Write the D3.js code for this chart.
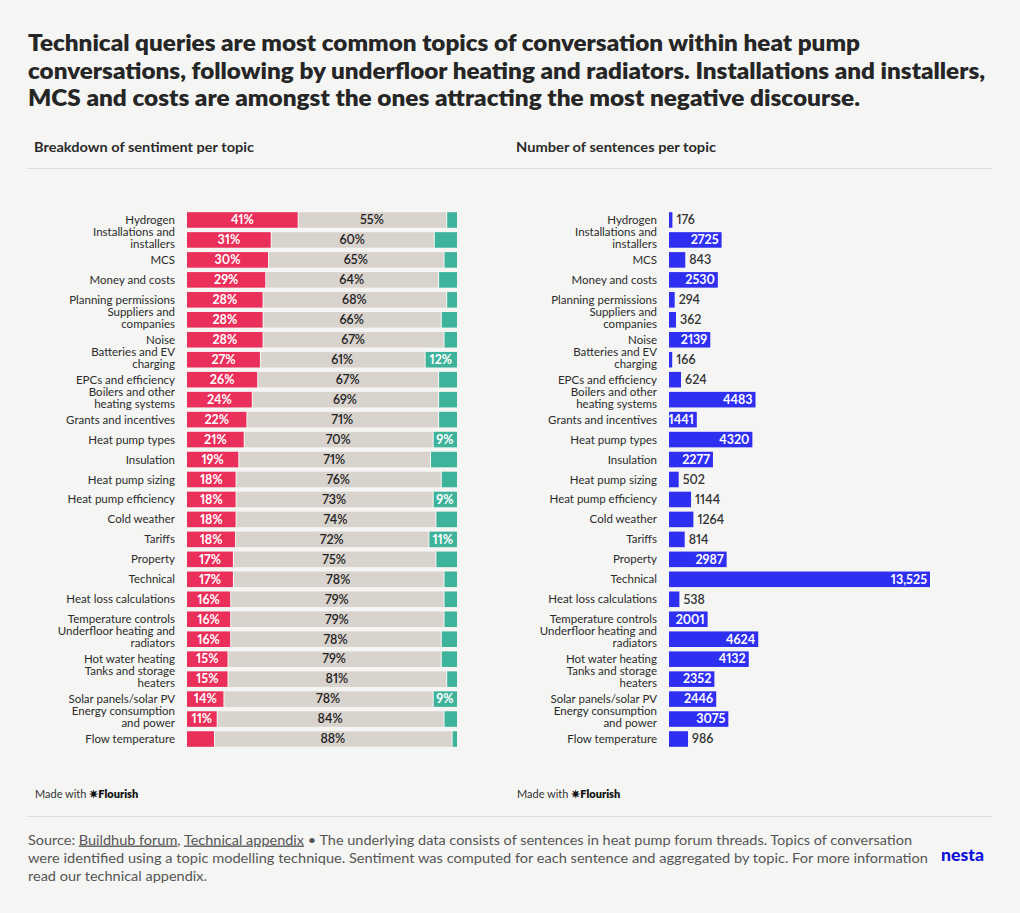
<!DOCTYPE html>
<html>
<head>
<meta charset="utf-8">
<script src="https://cdn.jsdelivr.net/npm/d3@7"></script>
<style>
  html, body { margin: 0; padding: 0; background: #f5f6f4; }
  svg { display: block; font-family: Lato, "Open Sans", sans-serif; font-variant-numeric: proportional-nums; }
</style>
</head>
<body>
<svg id="chart" width="1020" height="913"></svg>
<script>
// ---------- DATA ----------
const topics = [
  "Hydrogen", "Installations and installers", "MCS", "Money and costs",
  "Planning permissions", "Suppliers and companies", "Noise", "Batteries and EV charging",
  "EPCs and efficiency", "Boilers and other heating systems", "Grants and incentives",
  "Heat pump types", "Insulation", "Heat pump sizing", "Heat pump efficiency",
  "Cold weather", "Tariffs", "Property", "Technical", "Heat loss calculations",
  "Temperature controls", "Underfloor heating and radiators", "Hot water heating",
  "Tanks and storage heaters", "Solar panels/solar PV", "Energy consumption and power",
  "Flow temperature"
];
// label line breaks as shown in the chart
const topicLines = [
  ["Hydrogen"], ["Installations and", "installers"], ["MCS"], ["Money and costs"],
  ["Planning permissions"], ["Suppliers and", "companies"], ["Noise"], ["Batteries and EV", "charging"],
  ["EPCs and efficiency"], ["Boilers and other", "heating systems"], ["Grants and incentives"],
  ["Heat pump types"], ["Insulation"], ["Heat pump sizing"], ["Heat pump efficiency"],
  ["Cold weather"], ["Tariffs"], ["Property"], ["Technical"], ["Heat loss calculations"],
  ["Temperature controls"], ["Underfloor heating and", "radiators"], ["Hot water heating"],
  ["Tanks and storage", "heaters"], ["Solar panels/solar PV"], ["Energy consumption", "and power"],
  ["Flow temperature"]
];
// sentiment shares (%)
const negative = [41, 31, 30, 29, 28, 28, 28, 27, 26, 24, 22, 21, 19, 18, 18, 18, 17.8, 17, 17, 16, 16, 16, 15, 15, 13.5, 11, 10];
const neutral  = [55, 60.4, 65, 64, 68, 66, 67, 61, 67, 69, 71, 70, 71, 76, 73, 74, 71.6, 75, 78, 79, 79, 78, 79, 81, 77.5, 84, 88];
const positive = [4, 8.6, 5, 7, 4, 6, 5, 12, 7, 7, 7, 9, 10, 6, 9, 8, 10.6, 8, 5, 5, 5, 6, 6, 4, 9, 5, 2];
// number of sentences per topic
const sentences = [176, 2725, 843, 2530, 294, 362, 2139, 166, 624, 4483, 1441, 4320, 2277, 502, 1144, 1264, 814, 2987, 13525, 538, 2001, 4624, 4132, 2352, 2446, 3075, 986];

const titleLines = [
  "Technical queries are most common topics of conversation within heat pump",
  "conversations, following by underfloor heating and radiators. Installations and installers,",
  "MCS and costs are amongst the ones attracting the most negative discourse."
];

// ---------- STYLE ----------
const C = { neg: "#e92f5a", neu: "#d9d3cd", pos: "#3eb39b", blue: "#2f2ff2", text: "#2b2b2b", bg: "#f5f6f4" };

const svg = d3.select("#chart");
svg.append("rect").attr("width", 1020).attr("height", 913).attr("fill", C.bg);

// Title
const titleEnds = [860, 985, 860];
svg.append("g").selectAll("text").data(titleLines).join("text")
  .attr("x", 28).attr("y", (d, i) => 51 + i * 27.6)
  .attr("font-size", 22).attr("font-weight", 800).attr("fill", "#262626")
  .attr("textLength", (d, i) => titleEnds[i] - 28).attr("lengthAdjust", "spacingAndGlyphs")
  .text(d => d);

// Subtitles
svg.append("text").attr("x", 34).attr("y", 151.5).attr("font-size", 13).attr("font-weight", 700).attr("fill", C.text)
  .attr("textLength", 220).attr("lengthAdjust", "spacingAndGlyphs")
  .text("Breakdown of sentiment per topic");
svg.append("text").attr("x", 516).attr("y", 151.5).attr("font-size", 13).attr("font-weight", 700).attr("fill", C.text)
  .attr("textLength", 200).attr("lengthAdjust", "spacingAndGlyphs")
  .text("Number of sentences per topic");

svg.append("line").attr("x1", 27).attr("x2", 992).attr("y1", 168.5).attr("y2", 168.5).attr("stroke", "#dcdcdc");
svg.append("line").attr("x1", 27).attr("x2", 992).attr("y1", 816.5).attr("y2", 816.5).attr("stroke", "#dcdcdc");

const y = d3.scaleBand().domain(topics).range([210, 749]).paddingInner(0.22).paddingOuter(0.11);

function drawLabels(g, xRight) {
  const lg = g.append("g").selectAll("text").data(topics).join("text")
    .attr("text-anchor", "end").attr("font-size", 11.5).attr("fill", C.text);
  lg.each(function(d, i) {
    const lines = topicLines[i];
    const cy = y(d) + y.bandwidth() / 2;
    const t = d3.select(this);
    if (lines.length === 1) {
      t.append("tspan").attr("x", xRight).attr("y", cy + 4).text(lines[0]);
    } else {
      t.append("tspan").attr("x", xRight).attr("y", cy - 4).text(lines[0]);
      t.append("tspan").attr("x", xRight).attr("y", cy + 8).text(lines[1]);
    }
  });
}

// ---------- LEFT: stacked sentiment ----------
const left = svg.append("g");
drawLabels(left, 175);
const rows = topics.map((t, i) => ({ topic: t, negative: negative[i], neutral: neutral[i], positive: positive[i] }));
const keys = ["negative", "neutral", "positive"];
const stack = d3.stack().keys(keys).offset(d3.stackOffsetExpand);
const series = stack(rows);
const xL = d3.scaleLinear().domain([0, 1]).range([187, 457]);
const colorL = d3.scaleOrdinal().domain(keys).range([C.neg, C.neu, C.pos]);
const labelColor = { negative: "#ffffff", neutral: "#222222", positive: "#ffffff" };

series.forEach(s => {
  const g = left.append("g");
  g.selectAll("rect").data(s).join("rect")
    .attr("x", d => xL(d[0]) + (s.key === "negative" ? 0 : 1))
    .attr("width", d => Math.max(0, xL(d[1]) - xL(d[0]) - (s.key === "negative" ? 0 : 1)))
    .attr("y", d => y(d.data.topic)).attr("height", y.bandwidth())
    .attr("fill", colorL(s.key));
  g.selectAll("text").data(s).join("text")
    .attr("x", d => (xL(d[0]) + xL(d[1])) / 2)
    .attr("y", d => y(d.data.topic) + y.bandwidth() / 2 + 4.3)
    .attr("text-anchor", "middle").attr("font-size", 12.5)
    .attr("font-weight", s.key === "neutral" ? 600 : 700)
    .attr("fill", labelColor[s.key])
    .text(d => Math.round(d.data[s.key]) + "%")
    .each(function(d) {
      const w = xL(d[1]) - xL(d[0]);
      if (this.getComputedTextLength() + 4 > w || d.data[s.key] < 9) d3.select(this).remove();
    });
});

// ---------- RIGHT: sentence counts ----------
const right = svg.append("g");
drawLabels(right, 657);
const xR = d3.scaleLinear().domain([0, 13525]).range([669, 930]);
const fmt = v => v >= 10000 ? d3.format(",")(v) : String(v);
right.selectAll("rect.bar").data(sentences).join("rect").attr("class", "bar")
  .attr("x", xR(0)).attr("width", d => xR(d) - xR(0))
  .attr("y", (d, i) => y(topics[i])).attr("height", y.bandwidth())
  .attr("fill", C.blue);
right.selectAll("text.val").data(sentences).join("text").attr("class", "val")
  .attr("y", (d, i) => y(topics[i]) + y.bandwidth() / 2 + 4.3)
  .attr("font-size", 12.5).attr("font-weight", 700)
  .text(d => fmt(d))
  .each(function(d) {
    const w = xR(d) - xR(0);
    const tw = this.getComputedTextLength();
    const t = d3.select(this);
    if (tw + 2 <= w) {
      t.attr("x", xR(d) - 3).attr("text-anchor", "end").attr("fill", "#ffffff");
    } else {
      t.attr("x", xR(d) + 4).attr("text-anchor", "start").attr("fill", "#333333").attr("font-weight", 600);
    }
  });

// Made with Flourish
[35, 517].forEach(x => {
  const t = svg.append("text").attr("x", x).attr("y", 798).attr("font-size", 11).attr("fill", "#333");
  t.append("tspan").text("Made with ");
  t.append("tspan").attr("font-weight", 800).attr("fill", "#111").text("✷Flourish");
});

// Footer
const footStyle = sel => sel.attr("font-size", 13.5).attr("fill", "#555").attr("font-weight", 400).attr("x", 28).attr("lengthAdjust", "spacingAndGlyphs");
const f1 = svg.append("text").call(footStyle).attr("y", 844.5).attr("textLength", 884);
f1.append("tspan").text("Source: ");
f1.append("tspan").attr("text-decoration", "underline").text("Buildhub forum");
f1.append("tspan").text(", ");
f1.append("tspan").attr("text-decoration", "underline").text("Technical appendix");
f1.append("tspan").text(" • The underlying data consists of sentences in heat pump forum threads. Topics of conversation");
svg.append("text").call(footStyle).attr("y", 862.5).attr("textLength", 900)
  .text("were identified using a topic modelling technique. Sentiment was computed for each sentence and aggregated by topic. For more information");
svg.append("text").call(footStyle).attr("y", 880.5).attr("textLength", 179).text("read our technical appendix.");

svg.append("text").attr("x", 941).attr("y", 861).attr("font-size", 17.5).attr("font-weight", 900)
  .attr("fill", "#1010dd").attr("textLength", 43).attr("lengthAdjust", "spacingAndGlyphs").text("nesta");
</script>
</body>
</html>
